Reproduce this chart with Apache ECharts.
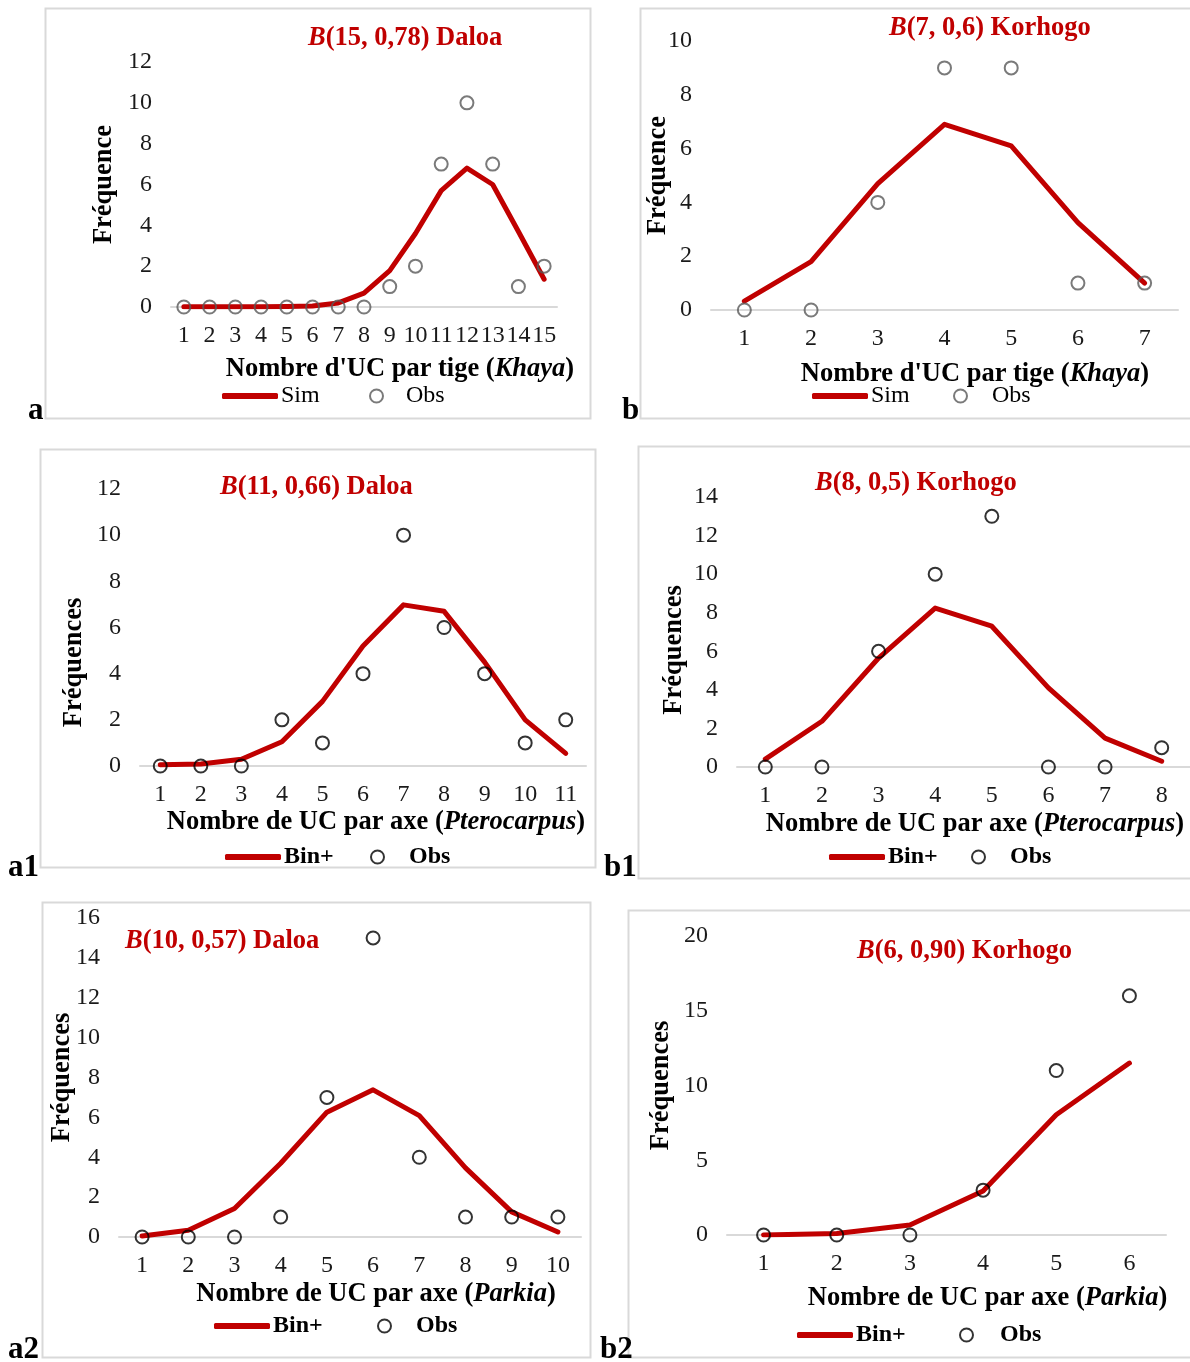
<!DOCTYPE html>
<html><head><meta charset="utf-8">
<script src="https://cdn.jsdelivr.net/npm/echarts@6/dist/echarts.min.js"></script>
<style>html,body{margin:0;padding:0;background:#fff}#c{width:1190px;height:1362px}</style>
</head><body><div id="c"></div>
<script>
// ---- Data ----
var catA = ['1','2','3','4','5','6','7','8','9','10','11','12','13','14','15'];
var simA = [0.01,0.01,0.01,0.01,0.02,0.05,0.2,0.68,1.78,3.6,5.7,6.8,6.0,3.7,1.36];
var obsA = [0,0,0,0,0,0,0,0,1,2,7,10,7,1,2];

var catB = ['1','2','3','4','5','6','7'];
var simB = [0.33,1.8,4.7,6.9,6.1,3.25,1.0];
var obsB = [0,0,4,9,9,1,1];

var catA1 = ['1','2','3','4','5','6','7','8','9','10','11'];
var simA1 = [0.05,0.09,0.29,1.05,2.8,5.2,6.98,6.7,4.5,2.0,0.55];
var obsA1 = [0,0,0,2,1,4,10,6,4,1,2];

var catB1 = ['1','2','3','4','5','6','7','8'];
var simB1 = [0.41,2.37,5.65,8.24,7.3,4.1,1.5,0.3];
var obsB1 = [0,0,6,10,13,0,0,1];

var catA2 = ['1','2','3','4','5','6','7','8','9','10'];
var simA2 = [0.05,0.34,1.43,3.7,6.26,7.38,6.09,3.47,1.26,0.25];
var obsA2 = [0,0,0,1,7,15,4,1,1,1];

var catB2 = ['1','2','3','4','5','6'];
var simB2 = [0,0.1,0.67,2.95,8.04,11.5];
var obsB2 = [0,0,0,3,11,16];

var yMax = [12,10,12,14,16,20];
var yInterval = [2,2,2,2,2,5];

// ---- Layout / style ----
var FONT = "'Liberation Serif','Times New Roman',serif";
var RED = '#C00000';
var panels = [
  {cats:catA, sim:simA, obs:obsA, lineName:'Sim', obsColor:'#595959', grid:{left:171,top:62,width:386,height:245},
   title:['15, 0,78','Daloa'], titlePos:[308,25], label:'a', labelPos:[28,395],
   yName:'Fréquence', yGap:53, yPad:[0,0,0,0], xName:['Nombre d\'UC par tige (','Khaya',')'], xGap:49, xPad:[0,0,0,72],
   legLine:[222,396], legObs:[369,396,18], boldLeg:false},
  {cats:catB, sim:simB, obs:obsB, lineName:'Sim', obsColor:'#595959', grid:{left:711,top:41,width:467,height:269},
   title:['7, 0,6','Korhogo'], titlePos:[889,15], label:'b', labelPos:[622,395],
   yName:'Fréquence', yGap:39, yPad:[0,0,0,0], xName:['Nombre d\'UC par tige (','Khaya',')'], xGap:51, xPad:[0,0,0,61],
   legLine:[812,396], legObs:[953,396,20], boldLeg:false},
  {cats:catA1, sim:simA1, obs:obsA1, lineName:'Bin+', obsColor:'#000', grid:{left:140,top:489,width:446,height:277},
   title:['11, 0,66','Daloa'], titlePos:[220,474], label:'a1', labelPos:[8,852],
   yName:'Fréquences', yGap:52, yPad:[0,70,0,0], xName:['Nombre de UC par axe (','Pterocarpus',')'], xGap:43, xPad:[0,0,0,26],
   legLine:[225,857], legObs:[370,857,20], boldLeg:true},
  {cats:catB1, sim:simB1, obs:obsB1, lineName:'Bin+', obsColor:'#000', grid:{left:737,top:497,width:456,height:270},
   title:['8, 0,5','Korhogo'], titlePos:[815,470], label:'b1', labelPos:[604,852],
   yName:'Fréquences', yGap:49, yPad:[0,36,0,0], xName:['Nombre de UC par axe (','Pterocarpus',')'], xGap:44, xPad:[0,0,0,23],
   legLine:[829,857], legObs:[971,857,20], boldLeg:true},
  {cats:catA2, sim:simA2, obs:obsA2, lineName:'Bin+', obsColor:'#000', grid:{left:119,top:918,width:462,height:319},
   title:['10, 0,57','Daloa'], titlePos:[125,928], label:'a2', labelPos:[8,1334],
   yName:'Fréquences', yGap:43, yPad:[0,0,0,0], xName:['Nombre de UC par axe (','Parkia',')'], xGap:44, xPad:[0,0,0,52],
   legLine:[214,1326], legObs:[377,1326,20], boldLeg:true},
  {cats:catB2, sim:simB2, obs:obsB2, lineName:'Bin+', obsColor:'#000', grid:{left:727,top:936,width:439,height:299},
   title:['6, 0,90','Korhogo'], titlePos:[857,938], label:'b2', labelPos:[600,1334],
   yName:'Fréquences', yGap:52, yPad:[0,0,0,0], xName:['Nombre de UC par axe (','Parkia',')'], xGap:50, xPad:[0,0,0,82],
   legLine:[797,1335], legObs:[959,1335,22], boldLeg:true}
];
var borders = [[45,8,545,410],[640,8,560,410],[40,449,555,418],[638,446,560,432],[42,902,548,455],[628,910,570,447]];

var option = {
  backgroundColor:'#fff', animation:false,
  textStyle:{fontFamily:FONT},
  title:[], grid:[], xAxis:[], yAxis:[], series:[], legend:[],
  graphic:[]
};

borders.forEach(function(b){
  option.graphic.push({type:'rect', silent:true, z:-10, shape:{x:b[0]+0.5,y:b[1]+0.5,width:b[2],height:b[3]},
    style:{fill:'none', stroke:'#d9d9d9', lineWidth:2}});
});

panels.forEach(function(p,i){
  option.title.push({
    text:'{i|B}{n|(' + p.title[0] + ') ' + p.title[1] + '}',
    left:p.titlePos[0], top:p.titlePos[1], padding:0,
    textStyle:{fontFamily:FONT, rich:{
      i:{fontFamily:FONT,fontSize:26.5,fontWeight:'bold',fontStyle:'italic',color:RED},
      n:{fontFamily:FONT,fontSize:26.5,fontWeight:'bold',color:RED}}}
  });
  option.title.push({
    text:p.label, left:p.labelPos[0], top:p.labelPos[1], padding:0,
    textStyle:{fontFamily:FONT,fontSize:31,fontWeight:'bold',color:'#000'}
  });
  option.grid.push(Object.assign({containLabel:false}, p.grid));
  option.xAxis.push({
    type:'category', gridIndex:i, data:p.cats, boundaryGap:true,
    axisLine:{show:true, lineStyle:{color:'#d9d9d9', width:2}},
    axisTick:{show:false},
    axisLabel:{interval:0, margin:17, fontFamily:FONT, fontSize:24, color:'#1a1a1a'},
    name:'{t|' + p.xName[0] + '}{it|' + p.xName[1] + '}{t|' + p.xName[2] + '}',
    nameLocation:'middle', nameGap:p.xGap, nameMoveOverlap:false,
    nameTextStyle:{padding:p.xPad, fontFamily:FONT, rich:{
      t:{fontFamily:FONT,fontSize:26.5,fontWeight:'bold',color:'#000'},
      it:{fontFamily:FONT,fontSize:26.5,fontWeight:'bold',fontStyle:'italic',color:'#000'}}}
  });
  option.yAxis.push({
    type:'value', gridIndex:i, min:0, max:yMax[i], interval:yInterval[i],
    axisLine:{show:false}, axisTick:{show:false}, splitLine:{show:false},
    axisLabel:{margin:19, fontFamily:FONT, fontSize:24, color:'#1a1a1a'},
    name:p.yName, nameLocation:'middle', nameRotate:90, nameGap:p.yGap, nameMoveOverlap:false,
    nameTextStyle:{fontFamily:FONT, fontSize:26.5, fontWeight:'bold', color:'#000', padding:p.yPad}
  });
  option.series.push({
    type:'line', name:p.lineName, xAxisIndex:i, yAxisIndex:i, data:p.sim,
    symbol:'none', z:2,
    lineStyle:{color:RED, width:5, join:'round', cap:'round'}, itemStyle:{color:RED}
  });
  option.series.push({
    type:'scatter', name:'Obs', xAxisIndex:i, yAxisIndex:i, data:p.obs,
    symbol:'circle', symbolSize:13, z:3,
    itemStyle:{color:'rgba(255,255,255,0)', borderColor:p.obsColor, borderWidth:2}
  });
  var lt = {fontFamily:FONT, fontSize:24, color:'#000', fontWeight:p.boldLeg?'bold':'normal'};
  option.legend.push({
    data:[p.lineName], left:p.legLine[0], top:p.legLine[1]-12, padding:0, selectedMode:false,
    icon:'roundRect', itemWidth:56, itemHeight:6, itemGap:0,
    textStyle:Object.assign({padding:[0,0,0,-2]}, lt)
  });
  option.legend.push({
    data:['Obs'], left:p.legObs[0], top:p.legObs[1]-12, padding:0, selectedMode:false,
    icon:'circle', itemWidth:13, itemHeight:13, itemGap:0,
    itemStyle:{color:'rgba(255,255,255,0)', borderColor:p.obsColor, borderWidth:2},
    textStyle:Object.assign({padding:[0,0,0,p.legObs[2]]}, lt)
  });
});

var chart = echarts.init(document.getElementById('c'));
chart.setOption(option);
</script></body></html>
